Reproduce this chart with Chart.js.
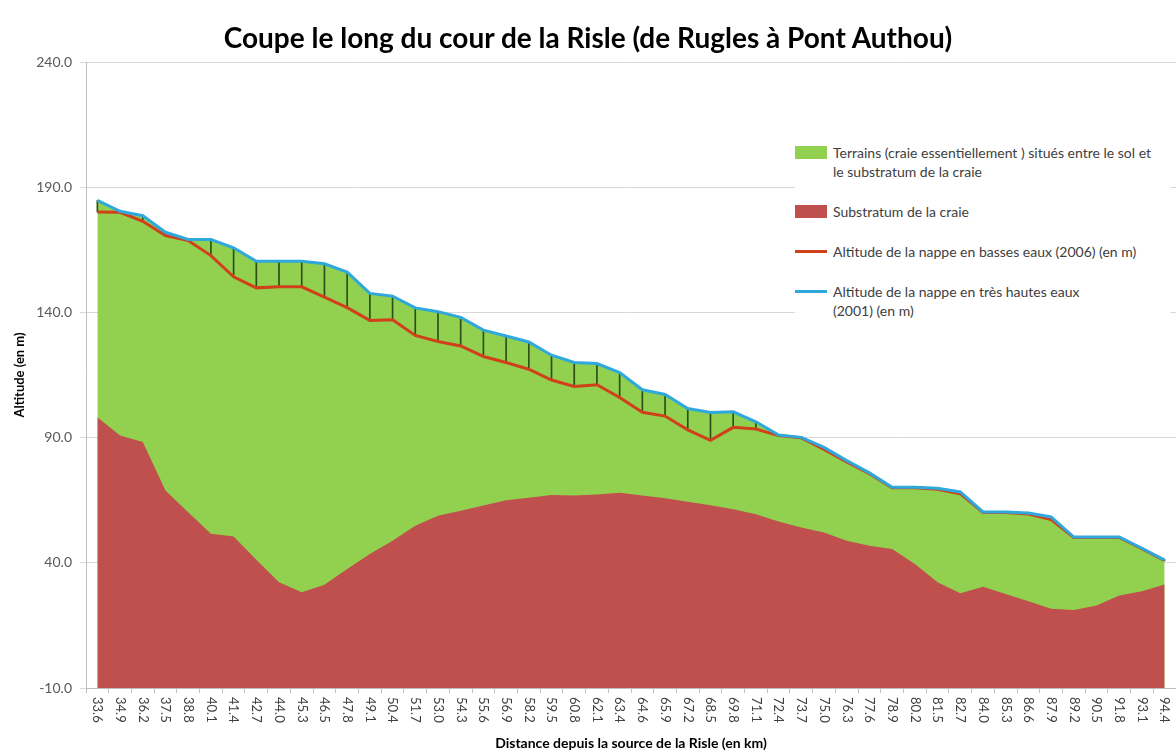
<!DOCTYPE html>
<html lang="fr">
<head>
<meta charset="utf-8">
<script src="https://cdn.jsdelivr.net/npm/chart.js@4.4.1/dist/chart.umd.min.js"></script>
<style>
  html, body { margin: 0; padding: 0; background: #fff; }
  #cadre { position: relative; width: 1176px; height: 753px; font-family: Lato, 'Open Sans', sans-serif; }
  #titre { position: absolute; left: 0; top: 20px; width: 1176px; text-align: center; font-size: 28px; font-weight: bold; color: #000; }
  #legende { position: absolute; left: 795px; top: 143px; width: 375px; background: #fff; font-size: 14px; color: #404040; }
  .item { position: relative; padding-left: 38px; line-height: 19px; margin-bottom: 21px; }
  .pastille { position: absolute; left: 0; top: 3px; width: 32px; height: 13px; }
  .trait { position: absolute; left: 0; top: 8px; width: 32px; height: 3px; }
</style>
</head>
<body>
<div id="cadre">
  <canvas id="coupeRisle" width="1176" height="753"></canvas>
  <div id="titre">Coupe le long du cour de la Risle (de Rugles à Pont Authou)</div>
  <div id="legende"></div>
</div>
<script>
// distances depuis la source (km) - une valeur par point
const distances = ['33.6', '34.9', '36.2', '37.5', '38.8', '40.1', '41.4', '42.7', '44.0', '45.3',
    '46.5', '47.8', '49.1', '50.4', '51.7', '53.0', '54.3', '55.6', '56.9', '58.2',
    '59.5', '60.8', '62.1', '63.4', '64.6', '65.9', '67.2', '68.5', '69.8', '71.1',
    '72.4', '73.7', '75.0', '76.3', '77.6', '78.9', '80.2', '81.5', '82.7', '84.0',
    '85.3', '86.6', '87.9', '89.2', '90.5', '91.8', '93.1', '94.4']

// altitude du substratum de la craie (m)
const substratum = [98.1, 90.8, 88.2, 68.9, 60.2, 51.6, 50.5, 41.2, 32.2, 28.2,
    31.2, 37.5, 43.5, 48.8, 54.8, 58.8, 60.8, 62.9, 65.0, 66.0,
    67.1, 66.9, 67.3, 68.0, 66.9, 65.8, 64.4, 63.0, 61.4, 59.4,
    56.5, 54.1, 52.1, 48.8, 46.8, 45.5, 39.5, 32.2, 27.8, 30.4,
    27.5, 24.6, 21.6, 21.2, 22.9, 26.9, 28.6, 31.3]

// nappe en basses eaux 2006 (m)
const bassesEaux = [180.1, 180.0, 176.4, 170.7, 168.7, 162.7, 154.2, 149.8, 150.2, 150.2,
    146.1, 141.9, 136.8, 137.1, 130.8, 128.4, 126.6, 122.4, 120.0, 117.3,
    113.0, 110.4, 111.1, 106.0, 100.1, 98.6, 93.1, 88.9, 94.1, 93.4,
    90.8, 89.9, 85.3, 80.3, 75.6, 70.0, 70.0, 69.4, 67.6, 60.1,
    60.1, 59.5, 57.3, 50.1, 50.1, 50.1, 45.6, 40.9]

// nappe en tres hautes eaux 2001 (m) - le haut des terrains suit cette ligne
const hautesEaux = [184.7, 180.4, 178.6, 172.0, 169.1, 169.1, 165.8, 160.4, 160.4, 160.4,
    159.4, 156.1, 147.6, 146.5, 141.8, 140.3, 138.0, 132.9, 130.6, 128.2,
    122.9, 120.0, 119.6, 116.0, 109.1, 107.2, 101.6, 100.0, 100.3, 96.3,
    91.0, 90.1, 86.1, 80.8, 75.9, 70.2, 70.2, 69.8, 68.3, 60.3,
    60.3, 59.9, 58.3, 50.3, 50.3, 50.3, 45.8, 41.1]

// graduations de l'axe des altitudes
const altitudeMin = -10
const altitudeMax = 240
const altitudePas = 50

// textes de la legende (coupures de ligne comme dans l'original)
const legendeTerrains = ['Terrains (craie essentiellement ) situés entre le sol et', 'le substratum de la craie']
const legendeSubstratum = ['Substratum de la craie']
const legendeBasses = ['Altitude de la nappe en basses eaux (2006) (en m)']
const legendeHautes = ['Altitude de la nappe en très hautes eaux', '(2001) (en m)']

const vert = '#92d050'
const rouge = '#c0504d'
const rougeLigne = '#d0401a'
const bleu = '#2fa8dc'
const hachure = '#2b4f17'

// etiquettes de l'axe X ecrites de haut en bas (comme dans Excel)
const etiquettesVerticales = {
    id: 'etiquettesVerticales',
    afterDraw(chart) {
        const sx = chart.scales.x
        const ctx = chart.ctx
        ctx.save()
        ctx.font = '13px Lato'
        ctx.fillStyle = '#404040'
        ctx.textAlign = 'left'
        ctx.textBaseline = 'middle'
        distances.forEach((lab, i) => {
            ctx.save()
            ctx.translate(sx.getPixelForValue(i), sx.top + 9)
            ctx.rotate(Math.PI / 2)
            ctx.fillText(lab, 0, 0)
            ctx.restore()
        })
        ctx.restore()
    }
}

const ctx = document.getElementById('coupeRisle').getContext('2d')
const graphique = new Chart(ctx, {
    type: 'line',
    data: {
        labels: distances,
        datasets: [{
            label: legendeTerrains,
            data: hautesEaux,
            backgroundColor: vert,
            borderWidth: 0,
            pointRadius: 0,
            fill: 'start',
            order: 5
        }, {
            label: legendeSubstratum,
            data: substratum,
            backgroundColor: rouge,
            borderWidth: 0,
            pointRadius: 0,
            fill: 'start',
            order: 4
        }, {
            type: 'bar',
            label: 'ecart',
            data: hautesEaux.map((h, i) => [bassesEaux[i], h]),
            backgroundColor: hachure,
            barThickness: 1,
            order: 3
        }, {
            label: legendeBasses,
            data: bassesEaux,
            borderColor: rougeLigne,
            borderWidth: 3,
            pointRadius: 0,
            fill: false,
            order: 2
        }, {
            label: legendeHautes,
            data: hautesEaux,
            borderColor: bleu,
            borderWidth: 3,
            pointRadius: 0,
            fill: false,
            order: 1
        }]
    },
    options: {
        responsive: false,
        animation: false,
        layout: { padding: { left: 0, right: 0, top: 62, bottom: 0 } },
        plugins: {
            legend: { display: false },
            tooltip: { enabled: false }
        },
        elements: { line: { tension: 0 } },
        scales: {
            x: {
                offset: true,
                grid: { display: true, offset: true, drawOnChartArea: false, color: '#bfbfbf', tickLength: 5 },
                border: { color: '#bfbfbf' },
                ticks: { display: false },
                title: {
                    display: true,
                    text: 'Distance depuis la source de la Risle (en km)',
                    font: { family: 'Lato', size: 14, weight: 'bold' },
                    color: '#000',
                    padding: { top: 0, bottom: 1 }
                },
                afterFit: (s) => { s.height = 65 }
            },
            y: {
                min: altitudeMin,
                max: altitudeMax,
                ticks: {
                    stepSize: altitudePas,
                    padding: 8,
                    color: '#595959',
                    font: { family: 'Lato', size: 14 },
                    callback: (v) => v.toFixed(1)
                },
                grid: { color: '#d9d9d9', tickLength: 6 },
                border: { color: '#bfbfbf' },
                title: {
                    display: true,
                    text: 'Altitude (en m)',
                    font: { family: 'Lato', size: 13, weight: 'bold' },
                    color: '#000',
                    padding: { top: 12, bottom: 0 }
                },
                afterFit: (s) => { s.width = 86 }
            }
        }
    },
    plugins: [etiquettesVerticales]
})

// legende HTML construite a partir des datasets
const legende = document.getElementById('legende')
graphique.data.datasets.forEach((ds) => {
    if (ds.type === 'bar') return
    const item = document.createElement('div')
    item.className = 'item'
    const marque = document.createElement('span')
    if (ds.fill === 'start') {
        marque.className = 'pastille'
        marque.style.background = ds.backgroundColor
    } else {
        marque.className = 'trait'
        marque.style.background = ds.borderColor
    }
    item.appendChild(marque)
    ds.label.forEach((ligne, k) => {
        if (k > 0) item.appendChild(document.createElement('br'))
        item.appendChild(document.createTextNode(ligne))
    })
    legende.appendChild(item)
})
</script>
</body>
</html>
